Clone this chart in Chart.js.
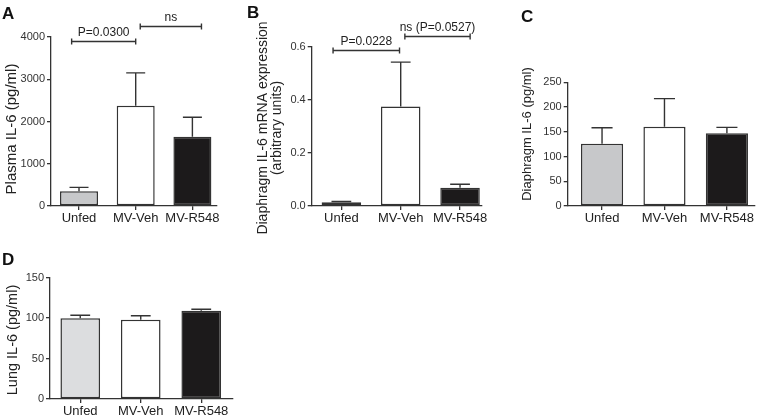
<!DOCTYPE html>
<html>
<head>
<meta charset="utf-8">
<script src="https://cdn.jsdelivr.net/npm/chart.js@4.4.1/dist/chart.umd.min.js"></script>
<style>
  body { margin: 0; background: #fff; }
  #wrap { position: relative; width: 757px; height: 419px; overflow: hidden; font-family: "Liberation Sans", Arial, sans-serif; }
  #wrap canvas { position: absolute; }
  .tag { position: absolute; font: bold 17px/17px "Liberation Sans", Arial, sans-serif; color: #111; }
</style>
</head>
<body>
<div id="wrap">
  <canvas id="cA" width="250" height="240" style="left:0;top:0"></canvas>
  <canvas id="cB" width="250" height="240" style="left:250px;top:0"></canvas>
  <canvas id="cC" width="252" height="240" style="left:505px;top:0"></canvas>
  <canvas id="cD" width="250" height="190" style="left:0;top:245px"></canvas>
  <div class="tag" style="left:2px;top:5px">A</div>
  <div class="tag" style="left:247px;top:4px">B</div>
  <div class="tag" style="left:521px;top:8px">C</div>
  <div class="tag" style="left:2px;top:251px">D</div>
</div>
<script>
"use strict";

// groups
var categories = ['Unfed', 'MV-Veh', 'MV-R548'];

// A - plasma IL-6 (pg/ml), mean and SEM
var plasmaMean = [350, 2370, 1640];
var plasmaSem = [90, 780, 460];
var plasmaTicks = [0, 1000, 2000, 3000, 4000];

// B - diaphragm IL-6 mRNA (arbitrary units)
var mrnaMean = [0.014, 0.375, 0.069];
var mrnaSem = [0.003, 0.167, 0.013];
var mrnaTicks = [0, 0.2, 0.4, 0.6];

// C - diaphragm IL-6 (pg/ml)
var diaMean = [126, 160, 147];
var diaSem = [32, 57, 12];
var diaTicks = [0, 50, 100, 150, 200, 250];

// D - lung IL-6 (pg/ml)
var lungMean = [100, 98, 109];
var lungSem = [3.5, 5, 2];
var lungTicks = [0, 50, 100, 150];

// significance brackets (x in group index units, y in data units)
var plasmaSig = [
	{ from: -0.13, to: 1.0, y: 3905, text: 'P=0.0300' },
	{ from: 1.08, to: 2.16, y: 4260, text: 'ns' }
];
var mrnaSig = [
	{ from: -0.14, to: 0.98, y: 0.588, text: 'P=0.0228' },
	{ from: 1.07, to: 2.17, y: 0.641, text: 'ns (P=0.0527)' }
];

var FONT = '"Liberation Sans", Arial, sans-serif';
var INK = '#333333';
var barColors = ['#c7c8ca', '#ffffff', '#1c1a1b'];
var lungColors = ['#dcdddf', '#ffffff', '#1c1a1b'];

// draws error whiskers, brackets and rotated axis title
var extrasPlugin = {
	id: 'extras',
	afterDatasetsDraw: function (chart) {
		var o = chart.options.plugins.extras;
		var x = chart.scales.x, y = chart.scales.y;
		var ctx = chart.ctx;
		ctx.save();
		ctx.strokeStyle = INK;
		ctx.lineWidth = 1.4;
		var meta = chart.getDatasetMeta(0);
		o.mean.forEach(function (m, i) {
			var px = x.getPixelForValue(i);
			var half = meta.data[i].width / 4;
			var top = y.getPixelForValue(m + o.sem[i]);
			ctx.beginPath();
			ctx.moveTo(px, y.getPixelForValue(m));
			ctx.lineTo(px, top);
			ctx.moveTo(px - half, top);
			ctx.lineTo(px + half, top);
			ctx.stroke();
		});
		(o.sig || []).forEach(function (s) {
			var x1 = x.getPixelForValue(s.from), x2 = x.getPixelForValue(s.to);
			var py = Math.round(y.getPixelForValue(s.y)) + 0.5;
			ctx.beginPath();
			ctx.moveTo(x1, py); ctx.lineTo(x2, py);
			ctx.moveTo(x1, py - 3); ctx.lineTo(x1, py + 3);
			ctx.moveTo(x2, py - 3); ctx.lineTo(x2, py + 3);
			ctx.stroke();
			ctx.fillStyle = '#222';
			ctx.font = '12px ' + FONT;
			ctx.textAlign = 'center';
			ctx.textBaseline = 'alphabetic';
			ctx.fillText(s.text, (x1 + x2) / 2, py - 6);
		});
		ctx.restore();
	},
	afterDraw: function (chart) {
		var t = chart.options.plugins.extras.title;
		var ctx = chart.ctx;
		ctx.save();
		ctx.fillStyle = '#222';
		ctx.font = t.size + 'px ' + FONT;
		ctx.textAlign = 'center';
		ctx.textBaseline = 'middle';
		t.lines.forEach(function (line, i) {
			ctx.save();
			ctx.translate(t.cx + i * t.gap, t.cy);
			ctx.rotate(-Math.PI / 2);
			ctx.fillText(line, 0, 0);
			ctx.restore();
		});
		ctx.restore();
	}
};

function makePanel(id, p) {
	var canvas = document.getElementById(id);
	var W = canvas.width, H = canvas.height;
	var yw = 40, xh = 26;
	return new Chart(canvas, {
		type: 'bar',
		data: {
			datasets: [{
				data: p.mean.map(function (v, i) { return { x: i, y: v }; }),
				backgroundColor: p.colors,
				borderColor: INK,
				borderWidth: 1.5,
				borderSkipped: false,
				barPercentage: p.barPct,
				categoryPercentage: 1
			}]
		},
		options: {
			responsive: false,
			animation: false,
			events: [],
			layout: {
				padding: { left: p.plot[0] - yw, top: p.plot[1], right: W - p.plot[2], bottom: H - p.plot[3] - xh }
			},
			plugins: {
				legend: { display: false },
				tooltip: { enabled: false },
				extras: { mean: p.mean, sem: p.sem, sig: p.sig, title: p.title }
			},
			scales: {
				x: {
					type: 'linear',
					min: p.xRange[0],
					max: p.xRange[1],
					offset: false,
					afterBuildTicks: function (s) { s.ticks = categories.map(function (c, i) { return { value: i }; }); },
					afterFit: function (s) { s.height = xh; },
					ticks: {
						autoSkip: false,
						maxRotation: 0,
						padding: 1,
						color: '#222',
						font: { family: FONT, size: 13 },
						callback: function (v) { return categories[v]; }
					},
					grid: { display: true, drawOnChartArea: false, offset: false, tickLength: 4, color: INK, lineWidth: 1.3 },
					border: { color: INK, width: 1.3 }
				},
				y: {
					min: p.ticks[0],
					max: p.ticks[p.ticks.length - 1],
					afterBuildTicks: function (s) { s.ticks = p.ticks.map(function (v) { return { value: v }; }); },
					afterFit: function (s) { s.width = yw; },
					ticks: {
						padding: 2,
						color: '#333',
						font: { family: FONT, size: 11 },
						callback: p.fmt || function (v) { return v; }
					},
					grid: { display: true, drawOnChartArea: false, tickLength: 4, color: INK, lineWidth: 1.3 },
					border: { color: INK, width: 1.3 }
				}
			}
		},
		plugins: [extrasPlugin]
	});
}

makePanel('cA', {
	mean: plasmaMean, sem: plasmaSem, ticks: plasmaTicks, sig: plasmaSig, colors: barColors,
	plot: [51, 37, 217, 206], xRange: [-0.494, 2.434], barPct: 0.67,
	title: { lines: ['Plasma IL-6 (pg/ml)'], cx: 12, cy: 129, size: 15, gap: 0 }
});

makePanel('cB', {
	mean: mrnaMean, sem: mrnaSem, ticks: mrnaTicks, sig: mrnaSig, colors: barColors,
	plot: [61.7, 46.7, 232, 206], xRange: [-0.5, 2.37], barPct: 0.666,
	fmt: function (v) { return v.toFixed(1); },
	title: { lines: ['Diaphragm IL-6 mRNA expression', '(arbitrary units)'], cx: 13, cy: 128, size: 14, gap: 14 }
});

makePanel('cC', {
	mean: diaMean, sem: diaSem, ticks: diaTicks, colors: barColors,
	plot: [62.7, 82.3, 250, 206], xRange: [-0.55, 2.45], barPct: 0.675,
	title: { lines: ['Diaphragm IL-6 (pg/ml)'], cx: 22, cy: 134, size: 13, gap: 0 }
});

makePanel('cD', {
	mean: lungMean, sem: lungSem, ticks: lungTicks, colors: lungColors,
	plot: [50, 32.7, 232.7, 154], xRange: [-0.5, 2.52], barPct: 0.655,
	title: { lines: ['Lung IL-6 (pg/ml)'], cx: 13, cy: 95, size: 14.5, gap: 0 }
});
</script>
</body>
</html>
